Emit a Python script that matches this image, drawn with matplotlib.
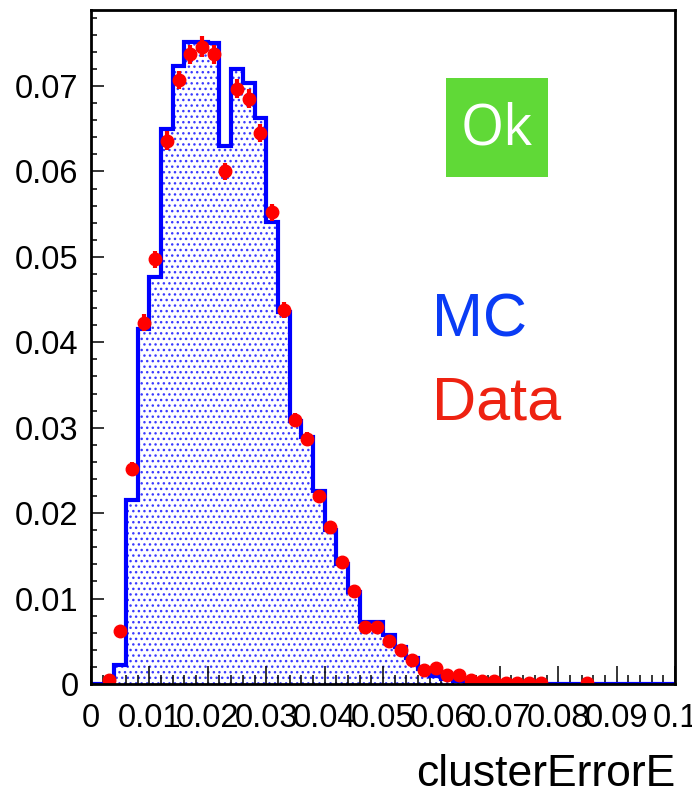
import numpy as np
import matplotlib
matplotlib.use('Agg')
import matplotlib.pyplot as plt
from matplotlib.ticker import MultipleLocator, FixedLocator
from matplotlib.patches import Rectangle

plt.rcParams['font.family'] = ['Liberation Sans', 'DejaVu Sans']
plt.rcParams['hatch.linewidth'] = 1.0

# 50 bins from 0 to 0.1
bin_edges = np.linspace(0.0, 0.1, 51)

mc_values = [0, 0, 0.0022, 0.0215, 0.0415, 0.0477, 0.0650, 0.0724, 0.0751, 0.0751,
             0.0750, 0.0630, 0.0720, 0.0704, 0.0662, 0.0541, 0.0436, 0.0308, 0.0289, 0.0226,
             0.0180, 0.0141, 0.0108, 0.0073, 0.0073, 0.0057, 0.0043, 0.0030, 0.0017, 0.0009,
             0.0006, 0.0004, 0.0002, 0.0001, 0, 0, 0, 0, 0, 0,
             0, 0, 0, 0, 0, 0, 0, 0, 0, 0]

nan = float('nan')
data_values = [nan, 0.0005, 0.0062, 0.0252, 0.0423, 0.0497, 0.0636, 0.0707, 0.0737, 0.0746,
               0.0737, 0.0600, 0.0697, 0.0685, 0.0645, 0.0552, 0.0438, 0.0309, 0.0287, 0.0220,
               0.0184, 0.0143, 0.0109, 0.0067, 0.0067, 0.0050, 0.0040, 0.0028, 0.0016, 0.0019,
               0.0010, 0.0010, 0.0005, 0.0003, 0.0003, 0.0001, 0.0001, 0.0001, 0.0001, nan,
               nan, nan, 0.0001, nan, nan, nan, nan, nan, nan, nan]

data_errors = [0, 0.0002, 0.0004, 0.0008, 0.0010, 0.0010, 0.0011, 0.0011, 0.0011, 0.0012,
               0.0011, 0.0010, 0.0011, 0.0011, 0.0011, 0.0010, 0.0009, 0.0008, 0.0008, 0.0007,
               0.0006, 0.0006, 0.0005, 0.0004, 0.0004, 0.0004, 0.0003, 0.0003, 0.0002, 0.0002,
               0.0002, 0.0002, 0.0001, 0.0001, 0.0001, 0.0001, 0.0001, 0.0001, 0.0001, 0,
               0, 0, 0.0001, 0, 0, 0, 0, 0, 0, 0]

x_ticks = [0, 0.01, 0.02, 0.03, 0.04, 0.05, 0.06, 0.07, 0.08, 0.09, 0.1]
x_tick_labels = ['0', '0.01', '0.02', '0.03', '0.04', '0.05', '0.06', '0.07', '0.08', '0.09', '0.1']
y_ticks = [0, 0.01, 0.02, 0.03, 0.04, 0.05, 0.06, 0.07]
y_tick_labels = ['0', '0.01', '0.02', '0.03', '0.04', '0.05', '0.06', '0.07']

centers = 0.5 * (bin_edges[:-1] + bin_edges[1:])

fig = plt.figure(figsize=(6.92, 8.07), dpi=100)
ax = fig.add_axes([91 / 692, 1 - 684 / 807, (675 - 91) / 692, (684 - 10) / 807])

# MC: dotted fill + thick blue outline
ax.stairs(mc_values, bin_edges, fill=True, facecolor='white', edgecolor='#3a3aff',
          hatch='...', linewidth=0, zorder=1)
ax.stairs(mc_values, bin_edges, color='#0000ff', linewidth=3, zorder=2)

# Data points
ax.errorbar(centers, data_values, yerr=data_errors, fmt='o', color='#ff0000',
            markersize=9, elinewidth=3, capsize=0, zorder=3)

ax.set_xlim(0, 0.1)
ax.set_ylim(0, 0.0789)

ax.xaxis.set_major_locator(FixedLocator(x_ticks))
ax.set_xticklabels(x_tick_labels)
ax.yaxis.set_major_locator(FixedLocator(y_ticks))
ax.set_yticklabels(y_tick_labels)
ax.xaxis.set_minor_locator(MultipleLocator(0.002))
ax.yaxis.set_minor_locator(MultipleLocator(0.002))

ax.tick_params(axis='both', which='both', direction='in', top=False, right=False,
               width=1.1, labelsize=23.5)
ax.tick_params(axis='x', which='major', length=13, pad=14)
ax.tick_params(axis='x', which='minor', length=6.5)
ax.tick_params(axis='y', which='major', length=9.5, pad=9)
ax.tick_params(axis='y', which='minor', length=4.5)
for s in ax.spines.values():
    s.set_linewidth(2)
    s.set_zorder(4)

fig.text(675 / 692, 1 - 775 / 807, 'clusterErrorE', fontsize=32,
         ha='right', va='center')

# Status box
fig.patches.append(Rectangle((446 / 692, 1 - 177 / 807), 102 / 692, 99 / 807,
                             transform=fig.transFigure, facecolor='#60d937',
                             edgecolor='none', zorder=5))
fig.text(497 / 692, 1 - 130 / 807, 'Ok', fontsize=40, color='white',
         ha='center', va='center', family=['Open Sans', 'DejaVu Sans'], zorder=6)

fig.text(432 / 692, 1 - 321 / 807, 'MC', fontsize=44, color='#0a3cf5',
         ha='left', va='center')
fig.text(432 / 692, 1 - 404 / 807, 'Data', fontsize=44, color='#ee2211',
         ha='left', va='center')

fig.savefig('out.png', dpi=100)
